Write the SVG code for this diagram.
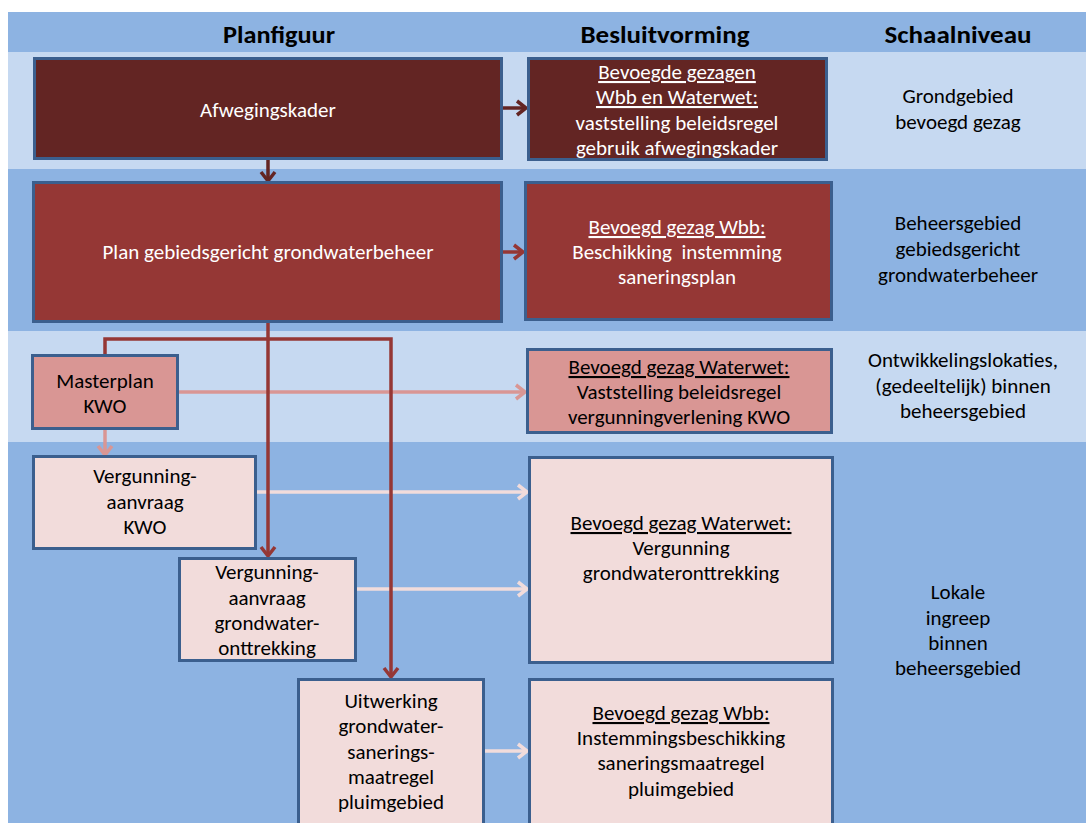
<svg xmlns="http://www.w3.org/2000/svg" width="1086" height="823" viewBox="0 0 1086 823">
<style>
text{font-family:Carlito,Lato,"Liberation Sans",sans-serif;font-size:21px;text-anchor:middle}
.h{font-weight:bold;font-size:24px;fill:#000}
.w{fill:#ffffff}
.k{fill:#000000}
.u{text-decoration:underline}
.box{stroke:#3b5f8e;stroke-width:3}
.c1{stroke:#632523;stroke-width:3.5;fill:none}
.c2{stroke:#953735;stroke-width:3.5;fill:none}
.c3{stroke:#d99694;stroke-width:3.5;fill:none}
.c4{stroke:#f2dcdb;stroke-width:3.5;fill:none}
</style>
<defs>
<marker id="m1" markerWidth="16" markerHeight="20" refX="13" refY="10" orient="auto" markerUnits="userSpaceOnUse" overflow="visible"><path d="M4,3 L13,10 L4,17" fill="none" stroke="#632523" stroke-width="3.5"/></marker>
<marker id="m2" markerWidth="16" markerHeight="20" refX="13" refY="10" orient="auto" markerUnits="userSpaceOnUse" overflow="visible"><path d="M4,3 L13,10 L4,17" fill="none" stroke="#953735" stroke-width="3.5"/></marker>
<marker id="m3" markerWidth="16" markerHeight="20" refX="13" refY="10" orient="auto" markerUnits="userSpaceOnUse" overflow="visible"><path d="M4,3 L13,10 L4,17" fill="none" stroke="#d99694" stroke-width="3.5"/></marker>
<marker id="m4" markerWidth="16" markerHeight="20" refX="13" refY="10" orient="auto" markerUnits="userSpaceOnUse" overflow="visible"><path d="M4,3 L13,10 L4,17" fill="none" stroke="#f2dcdb" stroke-width="3.5"/></marker>
</defs>
<rect x="0" y="0" width="1086" height="823" fill="#ffffff"/>
<g id="bands">
<rect x="8" y="12" width="1078" height="40" fill="#8db3e2"/>
<rect x="8" y="52" width="1078" height="117" fill="#c6d9f1"/>
<rect x="8" y="169" width="1078" height="162" fill="#8db3e2"/>
<rect x="8" y="331" width="1078" height="111" fill="#c6d9f1"/>
<rect x="8" y="442" width="1078" height="381" fill="#8db3e2"/>
</g>
<g id="header">
<text class="h" x="279" y="43" textLength="112" lengthAdjust="spacingAndGlyphs">Planfiguur</text>
<text class="h" x="665" y="43" textLength="169" lengthAdjust="spacingAndGlyphs">Besluitvorming</text>
<text class="h" x="958" y="43" textLength="147" lengthAdjust="spacingAndGlyphs">Schaalniveau</text>
</g>
<g id="scale">
<text class="k" x="958" y="103">Grondgebied</text>
<text class="k" x="958" y="129">bevoegd gezag</text>
<text class="k" x="958" y="230">Beheersgebied</text>
<text class="k" x="958" y="256">gebiedsgericht</text>
<text class="k" x="958" y="282">grondwaterbeheer</text>
<text class="k" x="963" y="367">Ontwikkelingslokaties,</text>
<text class="k" x="963" y="393">(gedeeltelijk) binnen</text>
<text class="k" x="963" y="418">beheersgebied</text>
<text class="k" x="958" y="599">Lokale</text>
<text class="k" x="958" y="625">ingreep</text>
<text class="k" x="958" y="650">binnen</text>
<text class="k" x="958" y="675">beheersgebied</text>
</g>
<g id="connectors">
<line class="c1" x1="503" y1="108" x2="526" y2="108" marker-end="url(#m1)"/>
<line class="c1" x1="268" y1="160" x2="268" y2="181" marker-end="url(#m1)"/>
<line class="c2" x1="503" y1="252" x2="523" y2="252" marker-end="url(#m2)"/>
<line class="c3" x1="179" y1="392" x2="525" y2="392" marker-end="url(#m3)"/>
<line class="c3" x1="105" y1="430" x2="105" y2="455" marker-end="url(#m3)"/>
<line class="c4" x1="257" y1="492" x2="527" y2="492" marker-end="url(#m4)"/>
<line class="c4" x1="357" y1="589" x2="527" y2="589" marker-end="url(#m4)"/>
<line class="c4" x1="485" y1="751" x2="527" y2="751" marker-end="url(#m4)"/>
<line class="c2" x1="268" y1="323" x2="268" y2="556" marker-end="url(#m2)"/>
<polyline class="c2" points="105,354 105,339 391,339 391,677" marker-end="url(#m2)"/>
</g>
<g id="n-afweging">
<rect class="box" x="34.5" y="58.5" width="467" height="100" fill="#632523"/>
<text class="w" x="268" y="117">Afwegingskader</text>
</g>
<g id="n-besluit1">
<rect class="box" x="528.5" y="58.5" width="298" height="101" fill="#632523"/>
<text class="w u" x="677" y="79">Bevoegde gezagen</text>
<text class="w u" x="677" y="104">Wbb en Waterwet:</text>
<text class="w" x="677" y="130">vaststelling beleidsregel</text>
<text class="w" x="677" y="155">gebruik afwegingskader</text>
</g>
<g id="n-plan">
<rect class="box" x="33.5" y="182.5" width="468" height="139" fill="#953735"/>
<text class="w" x="268" y="259">Plan gebiedsgericht grondwaterbeheer</text>
</g>
<g id="n-besluit2">
<rect class="box" x="525.5" y="182.5" width="306" height="137" fill="#953735"/>
<text class="w u" x="677" y="234">Bevoegd gezag Wbb:</text>
<text class="w" x="677" y="259" xml:space="preserve">Beschikking  instemming</text>
<text class="w" x="677" y="284">saneringsplan</text>
</g>
<g id="n-masterplan">
<rect class="box" x="32.5" y="355.5" width="145" height="73" fill="#d99694"/>
<text class="k" x="105" y="388">Masterplan</text>
<text class="k" x="105" y="413">KWO</text>
</g>
<g id="n-besluit3">
<rect class="box" x="527.5" y="349.5" width="304" height="83" fill="#d99694"/>
<text class="k u" x="679" y="374">Bevoegd gezag Waterwet:</text>
<text class="k" x="679" y="399">Vaststelling beleidsregel</text>
<text class="k" x="679" y="424">vergunningverlening KWO</text>
</g>
<g id="n-kwo">
<rect class="box" x="33.5" y="456.5" width="222" height="92" fill="#f2dcdb"/>
<text class="k" x="145" y="483">Vergunning-</text>
<text class="k" x="145" y="509">aanvraag</text>
<text class="k" x="145" y="534">KWO</text>
</g>
<g id="n-grondwater">
<rect class="box" x="179.5" y="558.5" width="176" height="102" fill="#f2dcdb"/>
<text class="k" x="267" y="579">Vergunning-</text>
<text class="k" x="267" y="605">aanvraag</text>
<text class="k" x="267" y="630">grondwater-</text>
<text class="k" x="267" y="655">onttrekking</text>
</g>
<g id="n-uitwerking">
<rect class="box" x="298.5" y="679.5" width="185" height="160" fill="#f2dcdb"/>
<text class="k" x="391" y="708">Uitwerking</text>
<text class="k" x="391" y="733">grondwater-</text>
<text class="k" x="391" y="759">sanerings-</text>
<text class="k" x="391" y="784">maatregel</text>
<text class="k" x="391" y="809">pluimgebied</text>
</g>
<g id="n-besluit4">
<rect class="box" x="529.5" y="457.5" width="303" height="205" fill="#f2dcdb"/>
<text class="k u" x="681" y="530">Bevoegd gezag Waterwet:</text>
<text class="k" x="681" y="555">Vergunning</text>
<text class="k" x="681" y="580">grondwateronttrekking</text>
</g>
<g id="n-besluit5">
<rect class="box" x="529.5" y="679.5" width="303" height="160" fill="#f2dcdb"/>
<text class="k u" x="681" y="720">Bevoegd gezag Wbb:</text>
<text class="k" x="681" y="745">Instemmingsbeschikking</text>
<text class="k" x="681" y="770">saneringsmaatregel</text>
<text class="k" x="681" y="796">pluimgebied</text>
</g>
</svg>
